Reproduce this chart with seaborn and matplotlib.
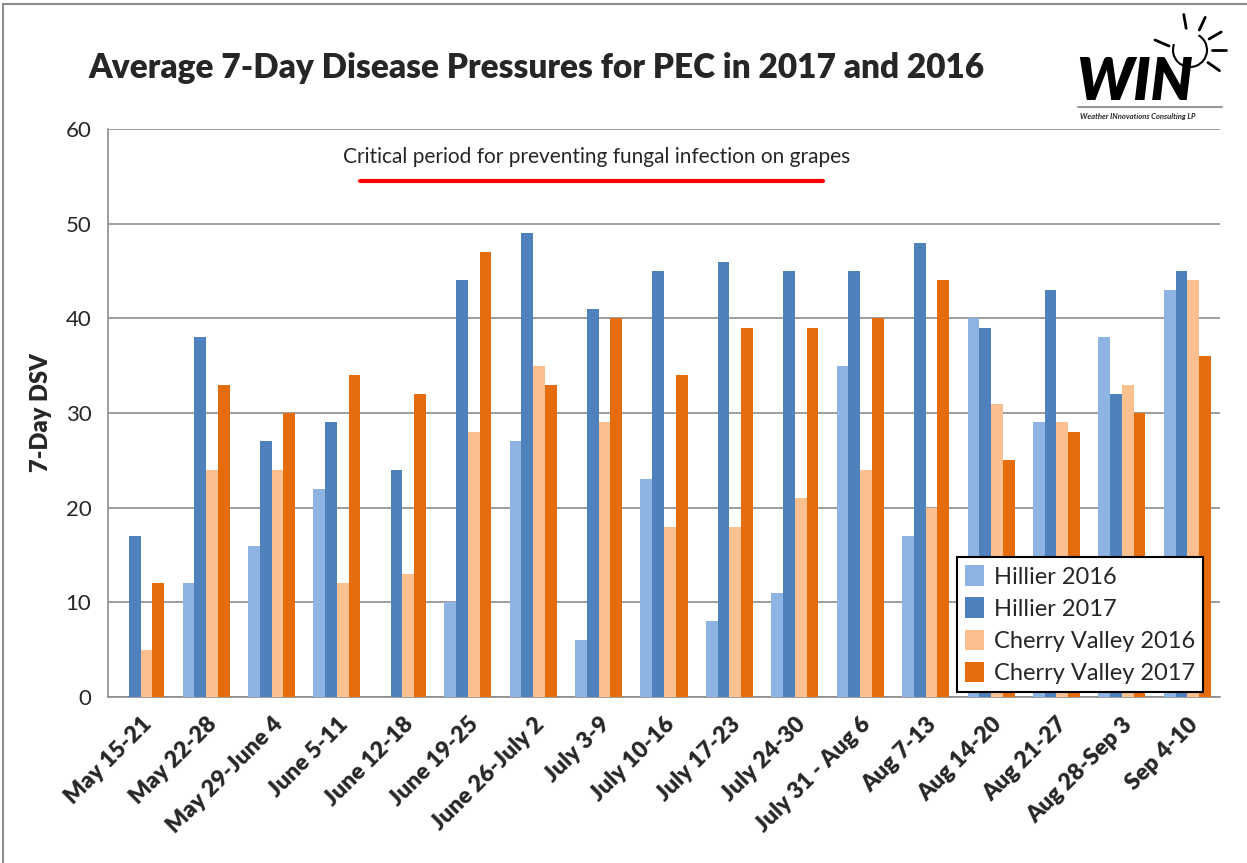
import numpy as np
import pandas as pd
import matplotlib
matplotlib.use("Agg")
import matplotlib.pyplot as plt
import seaborn as sns
from matplotlib.patches import Rectangle, Arc

# Data
weeks = ["May 15-21", "May 22-28", "May 29-June 4", "June 5-11", "June 12-18",
         "June 19-25", "June 26-July 2", "July 3-9", "July 10-16", "July 17-23",
         "July 24-30", "July 31 - Aug 6", "Aug 7-13", "Aug 14-20", "Aug 21-27",
         "Aug 28-Sep 3", "Sep 4-10"]
hillier_2016 = [0, 12, 16, 22, 0, 10, 27, 6, 23, 8, 11, 35, 17, 40, 29, 38, 43]
hillier_2017 = [17, 38, 27, 29, 24, 44, 49, 41, 45, 46, 45, 45, 48, 39, 43, 32, 45]
cherry_2016 = [5, 24, 24, 12, 13, 28, 35, 29, 18, 18, 21, 24, 20, 31, 29, 33, 44]
cherry_2017 = [12, 33, 30, 34, 32, 47, 33, 40, 34, 39, 39, 40, 44, 25, 28, 30, 36]

series_names = ["Hillier 2016", "Hillier 2017", "Cherry Valley 2016", "Cherry Valley 2017"]
colors = ["#8EB4E3", "#4F81BD", "#FAC090", "#E46C0A"]

df = pd.concat([
    pd.DataFrame({"week": weeks, "DSV": vals, "series": name})
    for name, vals in zip(series_names, [hillier_2016, hillier_2017, cherry_2016, cherry_2017])
])

sns.set_style("white")
plt.rcParams["font.family"] = ["Lato", "DejaVu Sans"]

fig = plt.figure(figsize=(12.47, 8.63), dpi=100)
ax = fig.add_axes([108 / 1247, 1 - 697 / 863, 1112 / 1247, 568 / 863])

sns.barplot(data=df, x="week", y="DSV", hue="series", palette=colors,
            width=0.72, gap=0, saturation=1, linewidth=0, ax=ax, zorder=3)

ax.set_ylim(0, 60)
ax.set_xlim(-0.5, len(weeks) - 0.5)
ax.set_yticks(range(0, 61, 10))
ax.yaxis.grid(True, color="#8c8c8c", linewidth=1.2, zorder=0)
ax.set_axisbelow(True)
for s in ["top", "right"]:
    ax.spines[s].set_visible(False)
for s in ["left", "bottom"]:
    ax.spines[s].set_color("#8c8c8c")
    ax.spines[s].set_linewidth(1.2)

# ticks between categories on x axis
ax.set_xticks(np.arange(len(weeks)))
ax.set_xticklabels(weeks, rotation=45, ha="right", rotation_mode="anchor",
                   fontsize=16.5, fontweight="heavy")
ax.set_xticks(np.arange(-0.5, len(weeks)), minor=True)
ax.tick_params(axis="x", which="major", length=0, pad=12)
ax.tick_params(axis="x", which="minor", length=6, width=1.2, color="#8c8c8c", direction="out")
ax.tick_params(axis="y", length=6, width=1.2, color="#8c8c8c", direction="out",
               labelsize=16, pad=6)
ax.set_xlabel("")
ax.set_ylabel("7-Day DSV", fontsize=17, fontweight="heavy", labelpad=10)

leg = ax.legend(loc="lower right", bbox_to_anchor=(0.985, 0.008), fontsize=17,
                frameon=True, fancybox=False, framealpha=1, borderpad=0.35,
                handlelength=0.8, handleheight=0.95, handletextpad=0.4, labelspacing=0.42,
                borderaxespad=0)
leg.get_frame().set_edgecolor("black")
leg.get_frame().set_linewidth(1.5)

# critical period annotation
fig.text(597 / 1247, 1 - 157 / 863,
         "Critical period for preventing fungal infection on grapes",
         ha="center", va="center", fontsize=15)
fig.add_artist(plt.Line2D([360 / 1247, 823 / 1247], [1 - 181 / 863, 1 - 181 / 863],
                          color="red", linewidth=3))

# title
fig.text(88 / 1247, 1 - 68 / 863, "Average 7-Day Disease Pressures for PEC in 2017 and 2016",
         ha="left", va="center", fontsize=24, fontweight="heavy")

# outer frame
fig.add_artist(Rectangle((3 / 1247, -0.01), 1.02, 1 - 4 / 863 + 0.01,
                         transform=fig.transFigure, fill=False,
                         edgecolor="#8c8c8c", linewidth=1.5))

# WIN logo
lax = fig.add_axes([1060 / 1247, 1 - 130 / 863, 187 / 1247, 130 / 863])
lax.set_xlim(0, 187)
lax.set_ylim(130, 0)
lax.axis("off")
lax.text(16, 83, "WIN", fontsize=42, fontweight="heavy", style="italic",
         ha="left", va="center", color="black")
lax.text(20, 117, "Weather INnovations Consulting LP", fontsize=5.5,
         fontweight="bold", style="italic", ha="left", va="center")
lax.plot([18, 162], [107, 107], color="#999999", linewidth=1.5)
lax.add_patch(Arc((130, 50), 34, 34, theta1=-60, theta2=200, color="black", linewidth=1.5))
lax.plot([125, 125], [62, 82], color="black", linewidth=2.5)
for ang in [100, 65, 30, 0, -35]:
    r = np.deg2rad(ang)
    lax.plot([130 + 22 * np.cos(r), 130 + 36 * np.cos(r)],
             [50 - 22 * np.sin(r), 50 - 36 * np.sin(r)], color="black", linewidth=2)
lax.plot([95, 109], [40, 46], color="black", linewidth=2)

fig.savefig("out.png", dpi=100)
